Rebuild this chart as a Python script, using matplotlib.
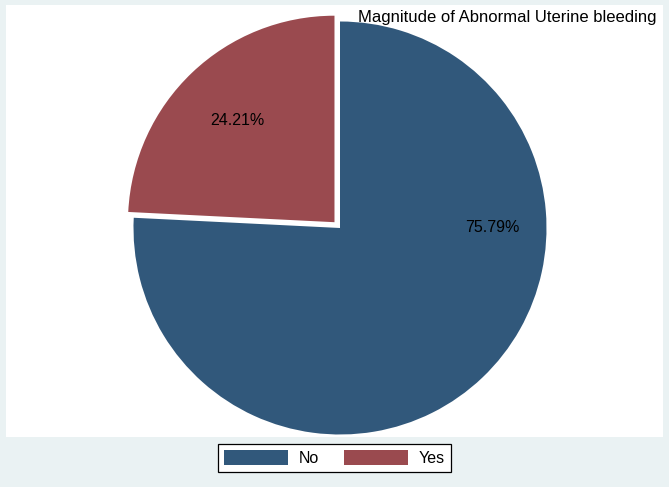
import matplotlib
matplotlib.use("Agg")
import matplotlib.pyplot as plt
from matplotlib.patches import Rectangle

# data
categories = ["No", "Yes"]
percents = [75.79, 24.21]
title = "Magnitude of Abnormal Uterine bleeding"

colors = ["#31587B", "#9A4A4F"]
plt.rcParams["font.family"] = ["Liberation Sans", "DejaVu Sans"]

W, H = 669, 487
fig = plt.figure(figsize=(W / 100, H / 100), dpi=100, facecolor="#EAF2F3")

# white plot region (pixel box 6..663 x 5..437)
x0, y0, x1, y1 = 6, 5, 663, 437
fig.patches.append(Rectangle((x0 / W, 1 - y1 / H), (x1 - x0) / W, (y1 - y0) / H,
                             transform=fig.transFigure, facecolor="white",
                             edgecolor="none", zorder=-5))

ax = fig.add_axes([x0 / W, 1 - y1 / H, (x1 - x0) / W, (y1 - y0) / H], zorder=2)
ax.set_facecolor("none")

# axes data units are pixels here, so explode is in pixels too
cx, cy, r = 340 - x0, y1 - 228, 206.5
wedges, texts, autotexts = ax.pie(
    percents, colors=colors, startangle=90, counterclock=False,
    explode=[0, 8], center=(cx, cy), radius=r,
    autopct=lambda p: f"{p:.2f}%", pctdistance=0.68,
    wedgeprops=dict(linewidth=0), textprops=dict(fontsize=11.5, color="black"))
ax.set_xlim(0, x1 - x0)
ax.set_ylim(0, y1 - y0)
ax.set_aspect("equal")
ax.axis("off")

# Stata puts the "No" label on the horizontal through the centre
autotexts[0].set_position((cx + 0.74 * r, cy))

fig.text(657 / W, 1 - 17.5 / H, title, ha="right", va="center", fontsize=12)

leg = fig.legend(wedges, categories, loc="center", ncol=2,
                 bbox_to_anchor=(334.5 / W, 1 - 458 / H), fontsize=11.5,
                 handlelength=4.0, handleheight=1.125, handletextpad=0.69,
                 columnspacing=1.56, borderpad=0.375, fancybox=False,
                 frameon=True, edgecolor="black", framealpha=1)
leg.get_frame().set_linewidth(0.9)

fig.savefig("out.png", dpi=100, facecolor=fig.get_facecolor())
